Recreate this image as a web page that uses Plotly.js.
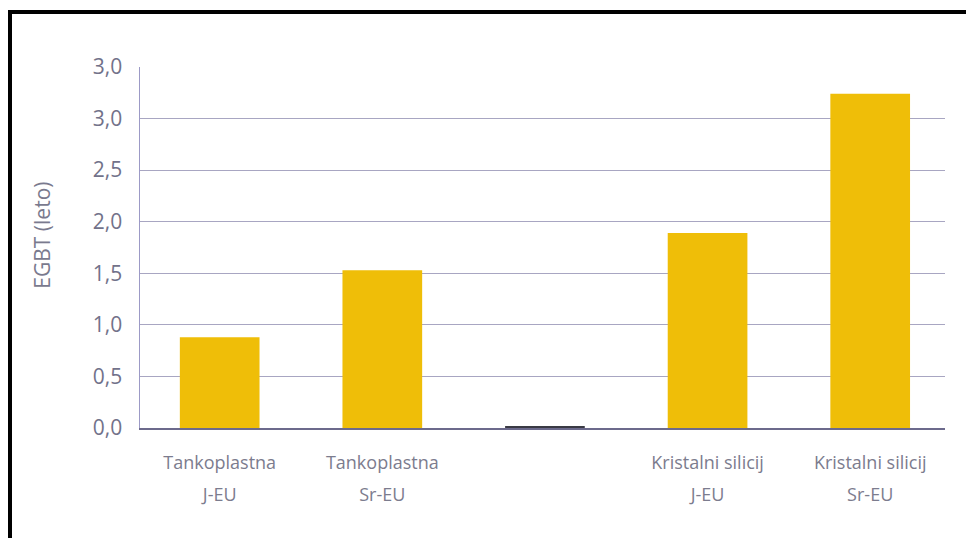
<!DOCTYPE html>
<html>
<head>
<meta charset="utf-8">
<script src="https://cdn.plot.ly/plotly-3.0.1.min.js"></script>
<style>
html,body{margin:0;padding:0;background:#fff;}
#chart{width:966px;height:538px;}
#frame{position:absolute;left:8px;top:10px;width:958px;height:528px;border-left:4px solid #000;border-top:4px solid #000;box-sizing:border-box;pointer-events:none;}
</style>
</head>
<body>
<div id="chart"></div>
<div id="frame"></div>
<script>
// Data
const positions = [0, 1, 2, 3, 4];
const labelLine1 = ['Tankoplastna', 'Tankoplastna', '', 'Kristalni silicij', 'Kristalni silicij'];
const labelLine2 = ['J-EU', 'Sr-EU', '', 'J-EU', 'Sr-EU'];
const egbtValues = [0.88, 1.53, 0.02, 1.89, 3.24];
const barColors = ['#efbe08', '#efbe08', '#3a3a44', '#efbe08', '#efbe08'];
const yTickVals = [0, 0.5, 1.0, 1.5, 2.0, 2.5, 3.0, 3.5];
const yTickText = ['0,0', '0,5', '1,0', '1,5', '2,0', '2,5', '3,0', '3,0'];
const yTitle = 'EGBT (leto)';

const FONT = '"Open Sans", Lato, sans-serif';
const TXT = '#6f6f80';

const traces = [
  {
    type: 'bar',
    x: positions,
    y: egbtValues,
    width: 0.49,
    marker: {color: barColors, line: {width: 0}},
    hoverinfo: 'skip',
    showlegend: false
  },
  {
    type: 'scatter',
    x: [],
    y: [],
    xaxis: 'x2',
    yaxis: 'y',
    showlegend: false,
    hoverinfo: 'skip'
  }
];

const xRange = [-0.49, 4.46];

const layout = {
  width: 966,
  height: 538,
  margin: {l: 140, r: 21, t: 67, b: 110},
  paper_bgcolor: '#ffffff',
  plot_bgcolor: '#ffffff',
  showlegend: false,
  font: {family: FONT, color: TXT},
  xaxis: {
    type: 'linear',
    range: xRange,
    tickvals: positions,
    ticktext: labelLine1,
    showgrid: false,
    zeroline: false,
    showline: true,
    linecolor: '#6c6a8c',
    linewidth: 1.5,
    ticks: '',
    ticklabelstandoff: 18,
    tickfont: {family: FONT, size: 18, color: '#7c7c8e'},
    fixedrange: true
  },
  xaxis2: {
    type: 'linear',
    overlaying: 'x',
    anchor: 'y',
    side: 'bottom',
    range: xRange,
    tickvals: positions,
    ticktext: labelLine2,
    showgrid: false,
    zeroline: false,
    showline: false,
    ticks: '',
    ticklabelstandoff: 54,
    tickfont: {family: FONT, size: 18, color: '#7c7c8e'},
    fixedrange: true
  },
  yaxis: {
    range: [0, 3.5],
    tickvals: yTickVals,
    ticktext: yTickText,
    showgrid: true,
    gridcolor: '#a8a6c2',
    gridwidth: 1,
    zeroline: false,
    showline: true,
    linecolor: '#9c9ac6',
    linewidth: 1.5,
    ticks: '',
    ticklabelstandoff: 12,
    tickfont: {family: FONT, size: 21, color: '#72728a'},
    automargin: false,
    fixedrange: true
  },
  annotations: [
    {
      text: yTitle,
      xref: 'paper', yref: 'paper',
      x: -0.122, y: 0.535,
      xanchor: 'center', yanchor: 'middle',
      textangle: -90,
      showarrow: false,
      font: {family: FONT, size: 21, color: '#7a7a8e'}
    }
  ]
};

Plotly.newPlot('chart', traces, layout, {displayModeBar: false, staticPlot: true});
</script>
</body>
</html>
